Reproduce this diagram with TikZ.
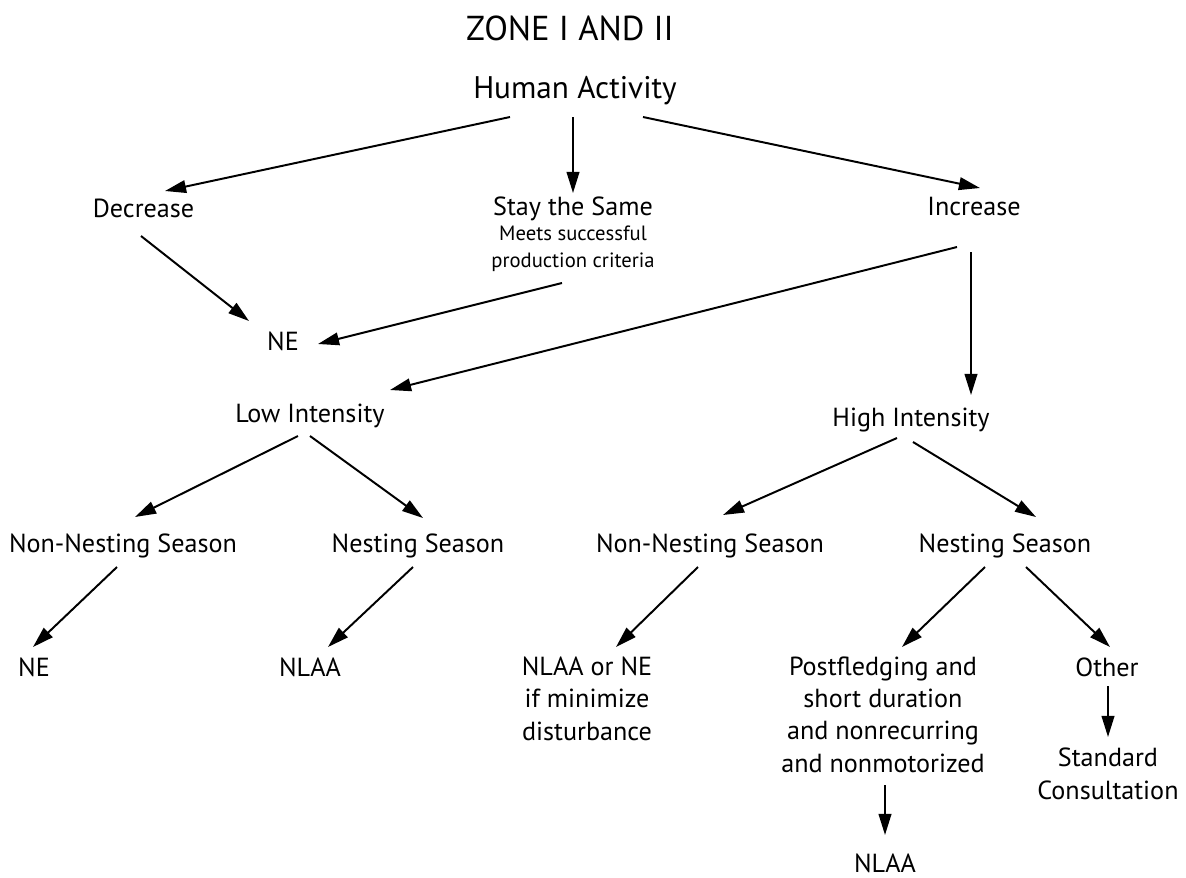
\documentclass[tikz,border=0pt]{standalone}
\usepackage{fontspec}
\setmainfont{PT Sans}
\usetikzlibrary{arrows.meta}
\begin{document}
\begin{tikzpicture}[x=0.025cm,y=-0.025cm,>={Triangle[length=15pt,width=9pt]},line width=1.4pt,
	lbl/.style={anchor=base,inner sep=0pt,align=center,font=\fontsize{18.6}{22.8}\selectfont},
	small/.style={lbl,font=\fontsize{14.7}{18.5}\selectfont}]
	\useasboundingbox (0,0) rectangle (1186,877);
	\node[lbl,font=\fontsize{24.6}{30}\selectfont] (title) at (570,40) {ZONE I AND II};
	\node[lbl,font=\fontsize{22.2}{24}\selectfont] (ha) at (575,98) {Human Activity};
	\node[lbl] (dec) at (143.5,217) {Decrease};
	\node[lbl] (same) at (573,215) {Stay the Same};
	\node[small] (crit) at (573,267) {Meets successful\\production criteria};
	\node[lbl] (inc) at (974,215) {Increase};
	\node[lbl] (ne) at (283,350) {NE};
	\node[lbl] (low) at (310,422) {Low Intensity};
	\node[lbl] (high) at (911,426) {High Intensity};
	% seasons
	\node[lbl] (nnl) at (123,552) {Non-Nesting Season};
	\node[lbl] (nsl) at (418,552) {Nesting Season};
	\node[lbl] (nnr) at (710,552) {Non-Nesting Season};
	\node[lbl] (nsr) at (1005,552) {Nesting Season};
	% outcomes (multi-line nodes sit on their last line)
	\node[lbl] (nel) at (34,676) {NE};
	\node[lbl] (nlaal) at (310,676) {NLAA};
	\node[lbl] (nlaane) at (587,740) {NLAA or NE\\if minimize\\disturbance};
	\node[lbl] (post) at (883,772) {Postfledging and\\short duration\\and nonrecurring\\and nonmotorized};
	\node[lbl] (other) at (1107,676) {Other};
	\node[lbl] (std) at (1108,799) {Standard\\Consultation};
	\node[lbl] (nlaab) at (885,872) {NLAA};
	\foreach \a/\sa/\b/\sb in {ha/{-65,19}/dec/{21.5,-26},ha/{-2,19}/same/{0,-22},ha/{68,19}/inc/{6,-27},
		dec/{-2.5,19}/ne/{-34,-29},crit/{-11,16}/ne/{35,-6},inc/{-17,32}/low/{80,-32},inc/{-3,37}/high/{60,-31},
		low/{-12,14}/nnl/{12,-35},low/{0,14}/nsl/{5,-34},high/{-14,12}/nnr/{13,-37},high/{2,16}/nsr/{31,-35},
		nnl/{-6,15}/nel/{-1,-29},nsl/{-5,15}/nlaal/{18,-29},nnr/{-12,15}/nlaane/{29,-93},
		nsr/{-20,15}/post/{19,-125},nsr/{21,15}/other/{3,-29},other/{1,10}/std/{0,-62},post/{2,13}/nlaab/{0,-37}}
	\draw[->] ([shift={(\sa)}]\a.base) -- ([shift={(\sb)}]\b.base);
\end{tikzpicture}
\end{document}
